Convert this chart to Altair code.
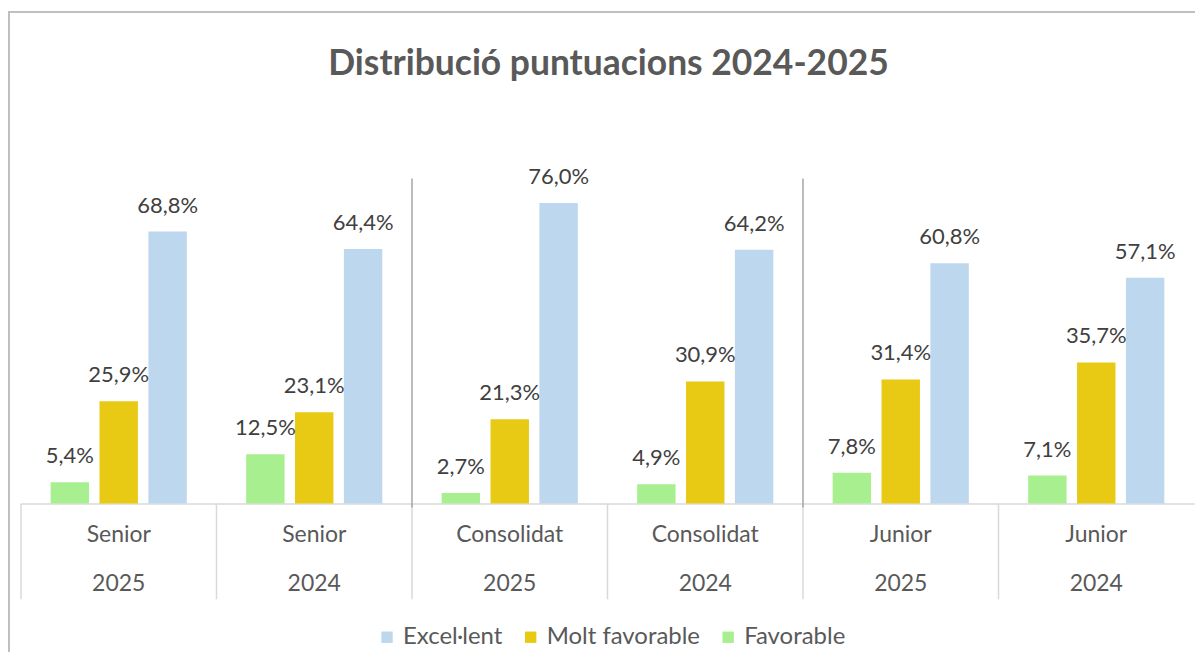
import altair as alt
import pandas as pd

title_text = "Distribució puntuacions 2024-2025"
categories = ["Senior|2025", "Senior|2024", "Consolidat|2025",
              "Consolidat|2024", "Junior|2025", "Junior|2024"]
series = ["Favorable", "Molt favorable", "Excel·lent"]
legend_order = ["Excel·lent", "Molt favorable", "Favorable"]
favorable = [5.4, 12.5, 2.7, 4.9, 7.8, 7.1]
molt_favorable = [25.9, 23.1, 21.3, 30.9, 31.4, 35.7]
excellent = [68.8, 64.4, 76.0, 64.2, 60.8, 57.1]
separators = ["Consolidat|2025", "Junior|2025"]

colors = {"Excel·lent": "#BDD7EE", "Molt favorable": "#E8CA14", "Favorable": "#A8EF8F"}

rows = []
for i, c in enumerate(categories):
    for s, vals in zip(series, [favorable, molt_favorable, excellent]):
        v = vals[i]
        rows.append({"cat": c, "serie": s, "v": v,
                     "lbl": f"{v:.1f}".replace(".", ",") + "%"})
df = pd.DataFrame(rows)

W, H = 1176, 325
FONT = "Lato"

x_enc = alt.X("cat:N", sort=categories,
              scale=alt.Scale(paddingInner=0, paddingOuter=0),
              axis=alt.Axis(title=None, labelExpr="split(datum.value, '|')",
                            labelAngle=0, labelAlign="center", labelFont=FONT,
                            labelFontSize=23, labelColor="#595959",
                            labelLineHeight=49, labelBaseline="top", labelPadding=20,
                            ticks=False, domainColor="#D9D9D9", domainWidth=1.5,
                            labelOverlap=False, labelBound=False, labelFlush=False))
xoff = alt.XOffset("serie:N", sort=series,
                   scale=alt.Scale(paddingInner=0.214, paddingOuter=0.607))
y_enc = alt.Y("v:Q", axis=None, scale=alt.Scale(domain=[0, 82], nice=False, zero=True))

bars = alt.Chart(df).mark_bar().encode(
    x=x_enc, xOffset=xoff, y=y_enc,
    color=alt.Color("serie:N",
                    scale=alt.Scale(domain=legend_order,
                                    range=[colors[k] for k in legend_order]),
                    legend=alt.Legend(title=None, orient="none", direction="horizontal",
                                      legendX=355, legendY=447, symbolType="square",
                                      symbolSize=130, symbolStrokeWidth=0,
                                      labelFont=FONT, labelFontSize=24,
                                      labelColor="#595959", labelOffset=4,
                                      columnPadding=16, padding=0)),
)

labels = alt.Chart(df).mark_text(font=FONT, fontSize=22, color="#404040",
                                 baseline="middle", dy=-26).encode(
    x=alt.X("cat:N", sort=categories), xOffset=alt.XOffset("serie:N", sort=series),
    y=alt.Y("v:Q"), text="lbl:N")

div_df = pd.DataFrame({"cat": categories})
dividers = alt.Chart(div_df).mark_rule(color="#D9D9D9", strokeWidth=1.5).encode(
    x=alt.X("cat:N", sort=categories, bandPosition=0),
    y=alt.value(H), y2=alt.value(H + 96))

sep_df = pd.DataFrame({"cat": separators})
seps = alt.Chart(sep_df).mark_rule(color="#A6A6A6", strokeWidth=1.5).encode(
    x=alt.X("cat:N", sort=categories, bandPosition=0),
    y=alt.value(-1), y2=alt.value(H + 4))

frame_top = alt.Chart(div_df).mark_rule(color="#BFBFBF", strokeWidth=1.5).encode(
    x=alt.value(-13), x2=alt.value(W + 20), y=alt.value(-168))
frame_left = alt.Chart(div_df).mark_rule(color="#BFBFBF", strokeWidth=1.5).encode(
    x=alt.value(-12.3), y=alt.value(-168), y2=alt.value(H + 160))

title_df = pd.DataFrame({"t": [title_text]})
title = alt.Chart(title_df).mark_text(font=FONT, fontSize=35.5, fontWeight="bold",
                                      color="#595959", baseline="middle",
                                      align="center").encode(
    x=alt.value(W / 2 + 1), y=alt.value(-116), text="t:N")

chart = alt.layer(frame_top, frame_left, dividers, seps, bars, labels, title).properties(
    width=W, height=H,
    background="white",
    autosize=alt.AutoSizeParams(type="none"),
    padding={"left": 13, "top": 171, "right": 1, "bottom": 148},
).configure_view(stroke="transparent", strokeWidth=0)

chart.save("out.html", embed_options={"renderer": "svg", "actions": False})
